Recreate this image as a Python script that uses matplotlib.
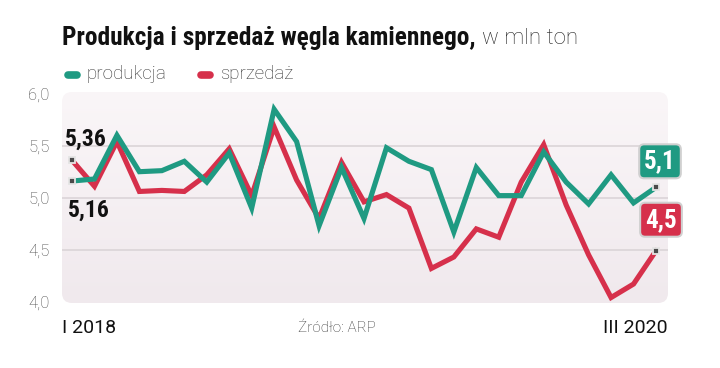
"""Produkcja i sprzedaż węgla kamiennego — wykres liniowy, I 2018 – III 2020."""
import numpy as np
import matplotlib

matplotlib.use("Agg")
import matplotlib.pyplot as plt
from matplotlib.patches import FancyBboxPatch
import matplotlib.font_manager as fm


def pick_narrow():
    """Szukamy zwężonego, pogrubionego kroju; jak nie ma — Roboto."""
    fonts = fm.fontManager.ttflist
    for key in ("Roboto Condensed", "Liberation Sans Narrow", "Noto Sans Condensed",
                "Open Sans Condensed", "DejaVu Sans Condensed"):
        if any(f.name == key for f in fonts):
            return [key, "DejaVu Sans"], "normal"
    for f in fonts:
        if ("Condensed" in f.name or "Narrow" in f.name) and "Mono" not in f.name:
            return [f.name, "DejaVu Sans"], "normal"
    for f in fonts:
        if f.stretch in ("condensed", "semi-condensed", 300) and "Mono" not in f.name:
            return [f.name, "DejaVu Sans"], "condensed"
    return ["Roboto", "DejaVu Sans"], "normal"


NARROW, NARROW_STRETCH = pick_narrow()
LIGHT = ["Roboto", "DejaVu Sans"]

C_PROD, C_SALE = "#1f9a82", "#d6304b"

# miesiące I 2018 .. III 2020 (27 punktów), mln ton
produkcja = [5.16, 5.18, 5.60, 5.25, 5.26, 5.35, 5.15, 5.43, 4.90, 5.85,
             5.54, 4.73, 5.29, 4.80, 5.48, 5.35, 5.27, 4.67, 5.29, 5.02,
             5.02, 5.44, 5.15, 4.94, 5.22, 4.95, 5.10]
sprzedaz = [5.36, 5.11, 5.54, 5.06, 5.07, 5.06, 5.22, 5.47, 5.02, 5.68,
            5.17, 4.80, 5.34, 4.96, 5.03, 4.90, 4.32, 4.43, 4.70, 4.62,
            5.15, 5.51, 4.93, 4.45, 4.04, 4.17, 4.49]
y_ticks = [4.0, 4.5, 5.0, 5.5, 6.0]
y_labels = ["4,0", "4,5", "5,0", "5,5", "6,0"]
x_first, x_last = "I 2018", "III 2020"

W, H = 720, 368
fig = plt.figure(figsize=(W / 100, H / 100), dpi=100)
fig.patch.set_facecolor("white")

# obszar wykresu w pikselach: 62..668 x 92..303
L, R, T, B = 62, 668, 92, 303
ax = fig.add_axes([L / W, 1 - B / H, (R - L) / W, (B - T) / H])
ax.set_facecolor("none")
for s in ax.spines.values():
    s.set_visible(False)

x = np.arange(len(produkcja))
dx = (656 - 72) / 26
ax.set_xlim((L - 72) / dx, (R - 72) / dx)
ppu = 104.0
ax.set_ylim(5.0 - (B - 197.7) / ppu, 5.0 + (197.7 - T) / ppu)

# tło: zaokrąglony prostokąt z delikatnym gradientem
bg = FancyBboxPatch((L / W, 1 - B / H), (R - L) / W, (B - T) / H,
                    boxstyle=f"round,pad=0,rounding_size={10 / W}",
                    mutation_aspect=W / H, transform=fig.transFigure,
                    facecolor="none", edgecolor="none")
grad = np.linspace(0, 1, 256)[:, None]
top = np.array(matplotlib.colors.to_rgb("#faf6f8"))
bot = np.array(matplotlib.colors.to_rgb("#f0e9ed"))
img = top[None, None, :] * (1 - grad[..., None]) + bot[None, None, :] * grad[..., None]
im = ax.imshow(img, extent=[*ax.get_xlim(), *ax.get_ylim()], aspect="auto",
               origin="upper", zorder=0)
im.set_clip_path(bg)

for yv in (4.5, 5.0, 5.5):
    ax.axhline(yv, color="#dbd4d8", lw=1.2, zorder=1)

ax.set_yticks(y_ticks)
ax.set_yticklabels(y_labels, fontfamily=LIGHT, fontweight="light",
                   fontsize=12, color="#4a4a4a")
ax.tick_params(axis="y", length=0, pad=9)
ax.set_xticks([])

ax.plot(x, sprzedaz, color=C_SALE, lw=3.7, solid_joinstyle="miter", zorder=3)
ax.plot(x, produkcja, color=C_PROD, lw=3.7, solid_joinstyle="miter", zorder=4)

# znaczniki końcowe
ends = [(0, sprzedaz[0]), (0, produkcja[0]), (x[-1], produkcja[-1]), (x[-1], sprzedaz[-1])]
for ex, ey in ends:
    ax.plot(ex, ey, marker="s", ms=4.5, mfc="#4a4a4a", mec="#e4e4e4", mew=1.3,
            zorder=6, clip_on=False)

lab_kw = dict(textcoords="offset pixels", ha="center", va="center",
              fontsize=17, fontweight="bold", fontfamily=NARROW,
              fontstretch=NARROW_STRETCH, color="#111111", zorder=7)
ax.annotate("5,36", (0, sprzedaz[0]), xytext=(14, 21), **lab_kw)
ax.annotate("5,16", (0, produkcja[0]), xytext=(17, -29), **lab_kw)

for val, yv, col, off in [("5,1", produkcja[-1], C_PROD, (4, 26)),
                          ("4,5", sprzedaz[-1], C_SALE, (5, 31))]:
    ax.annotate(val, (x[-1], yv), xytext=off, textcoords="offset pixels",
                ha="center", va="center", fontsize=18, fontweight="bold",
                fontfamily=NARROW, fontstretch=NARROW_STRETCH, color="white",
                zorder=7,
                bbox=dict(boxstyle="round,pad=0.2,rounding_size=0.2",
                          fc=col, ec="#d0d0d0", lw=1.5))

# tytuł
t1 = fig.text(L / W, 1 - 38 / H, "Produkcja i sprzedaż węgla kamiennego,",
              fontsize=16, fontweight="bold", fontfamily=NARROW,
              fontstretch=NARROW_STRETCH, color="#111111", ha="left", va="center")
fig.canvas.draw()
bb = t1.get_window_extent()
# dopasowanie szerokości pogrubionej części do ~415 px
t1.set_fontsize(16 * 415 / bb.width)
fig.canvas.draw()
bb = t1.get_window_extent()
fig.text((bb.x1 + 6) / W, 1 - 38 / H, "w mln ton", fontsize=16,
         fontweight="light", fontfamily=LIGHT, color="#222222",
         ha="left", va="center")

# legenda
for lx, tx, col, lab in [(64, 87, C_PROD, "produkcja"), (197, 220, C_SALE, "sprzedaż")]:
    fig.add_artist(plt.Line2D([(lx + 3.5) / W, (lx + 12.5) / W], [1 - 74.5 / H] * 2,
                              color=col, lw=5.5, solid_capstyle="round",
                              transform=fig.transFigure))
    fig.text(tx / W, 1 - 74 / H, lab, fontsize=13.5, fontweight="light",
             fontfamily=LIGHT, color="#333333", ha="left", va="center")

# opis osi X i źródło
fig.text(L / W, 1 - 328 / H, x_first, fontsize=14, fontfamily=LIGHT,
         color="#111111", ha="left", va="center")
fig.text(R / W, 1 - 328 / H, x_last, fontsize=14, fontfamily=LIGHT,
         color="#111111", ha="right", va="center")
fig.text(298 / W, 1 - 328 / H, "Źródło: ARP", fontsize=11, fontweight="light",
         fontfamily=LIGHT, color="#333333", ha="left", va="center")

fig.savefig("out.png", dpi=100)
